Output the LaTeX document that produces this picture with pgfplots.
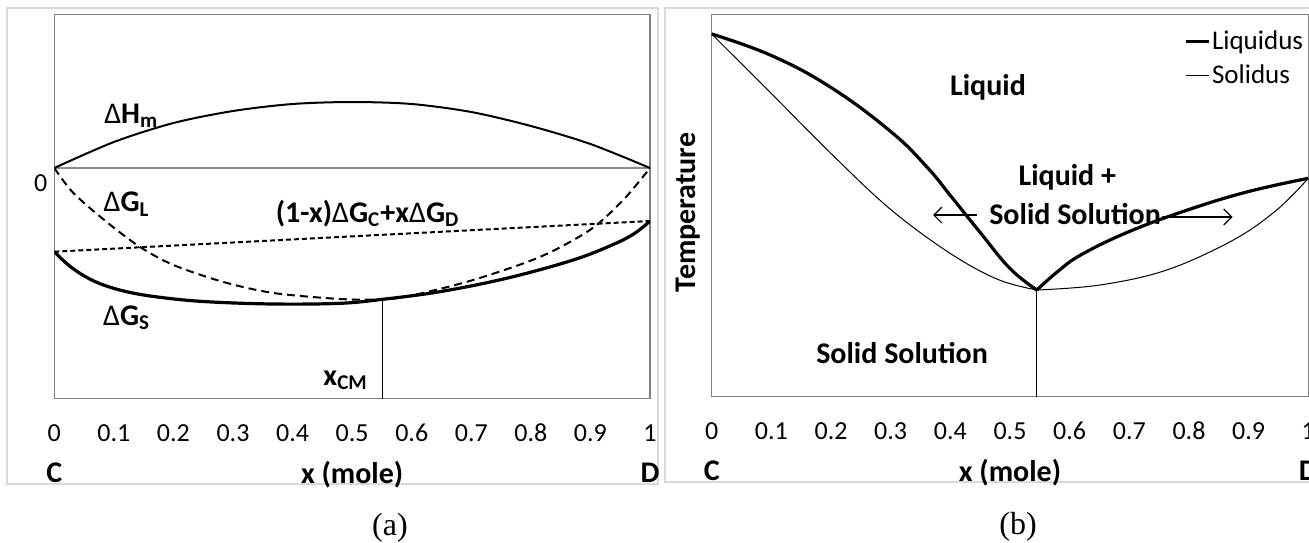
\documentclass[border=0pt]{standalone}
\usepackage{fontspec}
\setmainfont{Carlito}
\newfontfamily\capfont{Liberation Serif}
\usepackage{pgfplots}
\pgfplotsset{compat=1.18}
\usetikzlibrary{arrows.meta}

% thin delta and subscripts as in the source figure
\newcommand{\D}{{\mdseries Δ}}
\newcommand{\sub}[1]{\textsubscript{#1}}
\newcommand{\lbl}{\fontsize{15}{18}\selectfont\bfseries}

\pgfplotsset{
  panel/.style={
    scale only axis,
    clip mode=individual,
    xmin=0, xmax=1,
    axis line style={draw=black!50, line width=0.6pt},
    xtick={0,0.1,0.2,0.3,0.4,0.5,0.6,0.7,0.8,0.9,1},
    xticklabels={0,0.1,0.2,0.3,0.4,0.5,0.6,0.7,0.8,0.9,1},
    major tick length=0pt,
    tick label style={font=\fontsize{13}{15}\selectfont},
    xticklabel style={anchor=base, yshift=-21.25pt},
    /pgf/number format/assume math mode=true,
    xlabel={x (mole)},
    xlabel style={font=\lbl, at={(axis description cs:0.5,0)}, anchor=base, yshift=-42.5pt},
  }
}

\begin{document}
\begin{tikzpicture}
\useasboundingbox (0,0) rectangle (654.5pt,-271pt);
\clip (0,0) rectangle (654.5pt,-271pt);

% light panel frames
\draw[black!15, line width=0.75pt] (3.5pt,-4pt) rectangle (329pt,-242pt);
\draw[black!15, line width=0.75pt] (332.5pt,-4pt) rectangle (665pt,-241pt);

% ---------------- (a) free energy curves ----------------
\begin{axis}[panel,
    at={(27.15pt,-199.25pt)}, anchor=south west,
    width=297.85pt, height=192pt,
    ymin=-230.5, ymax=153.5,
    ytick={0}, yticklabels={0},
    yticklabel style={anchor=east, yshift=-7.75pt},
]
\addplot[black!45, line width=0.6pt] coordinates {(0,0) (1,0)};

% Delta H_m
\addplot[black, line width=1pt, smooth] coordinates {
  (0,0) (0.1,26) (0.2,45) (0.3,57) (0.4,64) (0.5,66)
  (0.6,64) (0.7,56) (0.8,42) (0.9,24) (1,0)
};

% Delta G_L
\addplot[black, line width=1pt, dash pattern=on 4pt off 2.5pt, smooth, tension=0.5] coordinates {
  (0,0) (0.032,-25) (0.088,-54) (0.144,-79) (0.2,-97) (0.284,-114)
  (0.368,-125) (0.48,-131) (0.551,-131.3) (0.6,-127.5) (0.703,-112)
  (0.815,-89) (0.899,-62) (0.955,-32) (1,0)
};

% mechanical mixture line
\addplot[black, line width=1pt, dash pattern=on 2.5pt off 1.5pt] coordinates {(0,-83.7) (1,-53)};

% Delta G_S
\addplot[black, line width=1.6pt, smooth, tension=0.6] coordinates {
  (0,-83.7) (0.03,-100) (0.07,-114) (0.12,-123.5) (0.18,-129.5) (0.256,-133.7)
  (0.368,-136) (0.48,-135.3) (0.551,-131.3) (0.647,-123.7)
  (0.759,-110.3) (0.871,-92) (0.94,-76) (0.975,-65) (1,-53)
};

% x_CM marker
\addplot[black, line width=0.6pt] coordinates {(0.551,-131.3) (0.551,-230.5)};

\node[font=\lbl, anchor=base west] at (axis cs:0.072,45) {\D H\sub{m}};
\node[font=\lbl, anchor=base west] at (axis cs:0.071,-43.7) {\D G\sub{L}};
\node[font=\lbl, anchor=base west] at (axis cs:0.36,-54) {(1-x)\D G\sub{C}+x\D G\sub{D}};
\node[font=\lbl, anchor=base west] at (axis cs:0.07,-157) {\D G\sub{S}};
\node[font=\lbl, anchor=base east] at (axis cs:0.538,-217) {x\sub{CM}};

\node[font=\lbl, anchor=base, yshift=-42pt] at (rel axis cs:0,0) {C};
\node[font=\lbl, anchor=base, yshift=-42pt] at (rel axis cs:1,0) {D};
\end{axis}

% ---------------- (b) phase diagram ----------------
\begin{axis}[panel,
    at={(355.85pt,-198.25pt)}, anchor=south west,
    width=298.3pt, height=191pt,
    ymin=0, ymax=382,
    ytick=\empty,
    ylabel={Temperature},
    ylabel style={font=\lbl, at={(axis description cs:-0.0397,0.482)}, anchor=center},
    legend style={at={(0.792,0.962)}, anchor=north west, draw=none, fill=none,
      inner sep=0pt, font=\fontsize{13.5}{16}\selectfont, row sep=5pt,
      nodes={inner sep=0.6pt}},
    legend cell align=left,
    legend image code/.code={\draw[#1] (0pt,0pt) -- (11.5pt,0pt);},
]
\addlegendimage{black, line width=1.6pt}
\addlegendentry{Liquidus}
\addlegendimage{black, line width=0.5pt}
\addlegendentry{Solidus}

% liquidus
\addplot[black, line width=1.6pt, smooth, tension=0.7] coordinates {
  (0,362.5) (0.1,341) (0.2,309) (0.3,265) (0.36,230) (0.4,201)
  (0.45,164) (0.5,128) (0.545,106.5)
};
\addplot[black, line width=1.6pt, smooth, tension=0.7] coordinates {
  (0.545,106.5) (0.58,125) (0.62,142) (0.7,165) (0.8,187) (0.9,205) (1,218.2)
};

% solidus
\addplot[black, line width=0.5pt, smooth, tension=0.6] coordinates {
  (0,362.5) (0.1,303) (0.2,243) (0.3,187) (0.4,143) (0.48,117) (0.545,106.5)
};
\addplot[black, line width=0.5pt, smooth, tension=0.6] coordinates {
  (0.545,106.5) (0.6509,111.5) (0.7627,126.5) (0.8743,156.5) (0.947,186.5) (1,218.2)
};

% eutectic composition
\addplot[black, line width=0.6pt] coordinates {(0.545,106.5) (0.545,0)};

\node[font=\lbl] at (axis cs:0.463,309.5) {Liquid};
\node[font=\lbl] at (axis cs:0.596,219.5) {Liquid +};
\node[font=\lbl] at (axis cs:0.609,182.5) {Solid Solution};
\node[font=\lbl] at (axis cs:0.319,43.5) {Solid Solution};
\draw[-{Straight Barb[length=4pt]}, line width=0.6pt] (axis cs:0.445,181.5) -- (axis cs:0.371,181.5);
\draw[-{Straight Barb[length=4pt]}, line width=0.6pt] (axis cs:0.755,179.5) -- (axis cs:0.873,179.5);

\node[font=\lbl, anchor=base, yshift=-42pt] at (rel axis cs:0,0) {C};
\node[font=\lbl, anchor=base, yshift=-42pt] at (rel axis cs:1,0) {D};
\end{axis}

\node[font=\capfont\fontsize{16}{19}\selectfont] at (195pt,-264pt) {(a)};
\node[font=\capfont\fontsize{16}{19}\selectfont] at (509pt,-263.5pt) {(b)};
\end{tikzpicture}
\end{document}
